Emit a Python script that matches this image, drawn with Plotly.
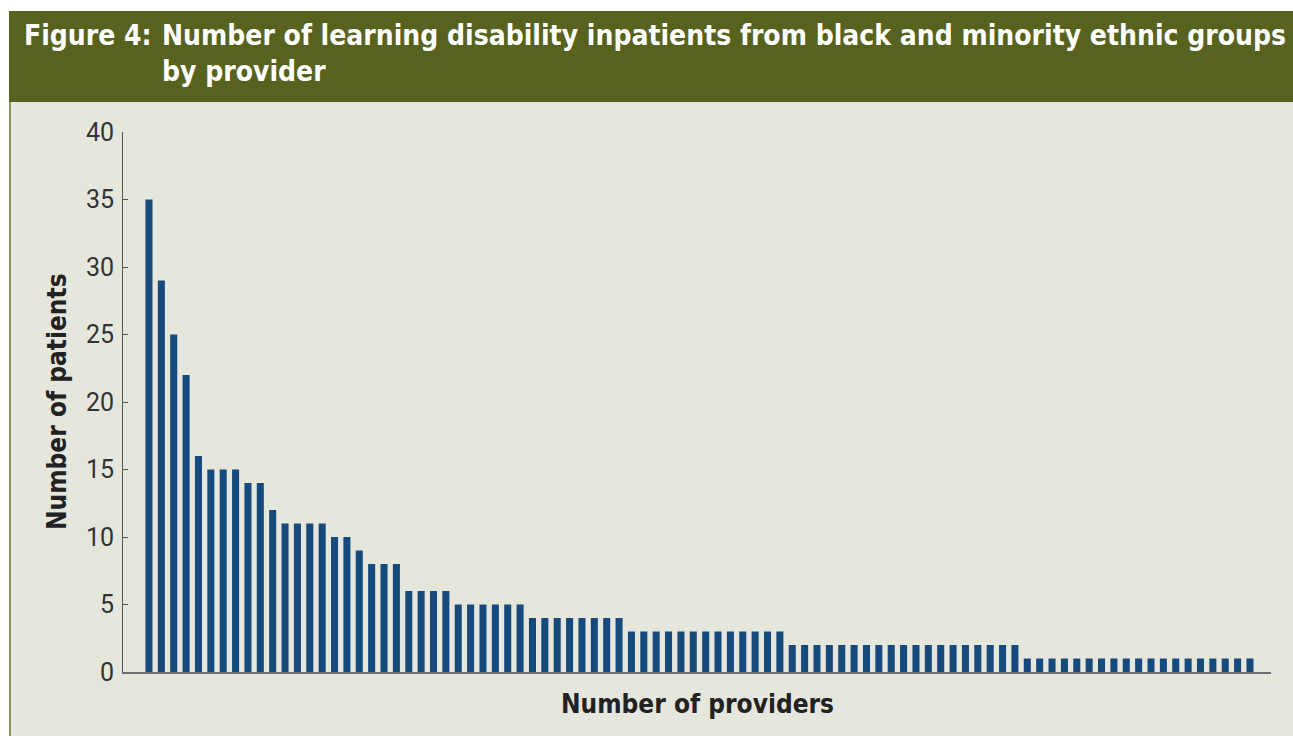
import plotly.graph_objects as go

# Patients per provider, providers sorted from most to fewest patients
patients = (
    [35, 29, 25, 22, 16, 15, 15, 15, 14, 14, 12, 11, 11, 11, 11, 10, 10, 9, 8, 8, 8]
    + [6] * 4 + [5] * 6 + [4] * 8 + [3] * 13 + [2] * 19 + [1] * 19
)
providers = list(range(len(patients)))
y_ticks = [0, 5, 10, 15, 20, 25, 30, 35, 40]

W, H = 1293, 736
L, R, T, B = 123, 22, 132, 64
PW, PH = W - L - R, H - T - B


def px_x(px):
    return (px - L) / PW


def px_y(py):
    return (H - B - py) / PH


BAR = "#174a7c"
BAND = "#58621f"
PANEL = "#e6e7dc"
TITLE_FONT = "DejaVu Sans Condensed, DejaVu Sans, sans-serif"

fig = go.Figure(
    go.Bar(x=providers, y=patients, marker=dict(color=BAR, line=dict(width=0)))
)

shapes = [
    # white margin round the panel
    dict(type="rect", xref="paper", yref="paper", x0=px_x(0), x1=px_x(W),
         y0=px_y(0), y1=px_y(11), fillcolor="white", line_width=0, layer="below"),
    dict(type="rect", xref="paper", yref="paper", x0=px_x(0), x1=px_x(9),
         y0=px_y(0), y1=px_y(H), fillcolor="white", line_width=0, layer="below"),
    # title band
    dict(type="rect", xref="paper", yref="paper", x0=px_x(9), x1=px_x(W),
         y0=px_y(11), y1=px_y(102), fillcolor=BAND, line_width=0, layer="below"),
    # panel left border
    dict(type="line", xref="paper", yref="paper", x0=px_x(10), x1=px_x(10),
         y0=px_y(102), y1=px_y(H), line=dict(color="#8c965c", width=2), layer="below"),
]

annotations = [
    dict(text="<b>Figure 4:</b>", x=px_x(22), y=px_y(36), xref="paper", yref="paper",
         xanchor="left", yanchor="middle", showarrow=False,
         font=dict(family=TITLE_FONT, size=28, color="white")),
    dict(text="<b>Number of learning disability inpatients from black and minority ethnic groups</b>",
         x=px_x(160), y=px_y(36), xref="paper", yref="paper",
         xanchor="left", yanchor="middle", showarrow=False,
         font=dict(family=TITLE_FONT, size=28, color="white")),
    dict(text="<b>by provider</b>", x=px_x(160), y=px_y(72), xref="paper", yref="paper",
         xanchor="left", yanchor="middle", showarrow=False,
         font=dict(family=TITLE_FONT, size=28, color="white")),
    dict(text="<b>Number of providers</b>", x=px_x(697), y=px_y(704), xref="paper", yref="paper",
         xanchor="center", yanchor="middle", showarrow=False,
         font=dict(family=TITLE_FONT, size=26, color="#222222")),
    dict(text="<b>Number of patients</b>", x=px_x(57), y=px_y(402), xref="paper", yref="paper",
         xanchor="center", yanchor="middle", showarrow=False, textangle=-90,
         font=dict(family=TITLE_FONT, size=26, color="#222222")),
]

fig.update_layout(
    width=W, height=H,
    margin=dict(l=L, r=R, t=T, b=B, pad=0),
    paper_bgcolor=PANEL, plot_bgcolor=PANEL,
    bargap=0.43, showlegend=False,
    shapes=shapes, annotations=annotations,
    xaxis=dict(range=[-2.1, 90.7], showticklabels=False, ticks="", showgrid=False,
               zeroline=False, showline=True, linecolor="#6e6e6e", linewidth=2),
    yaxis=dict(range=[0, 40], tickvals=y_ticks, ticks="inside", ticklen=5,
               tickcolor="#555555", tickwidth=1, showgrid=False, zeroline=False,
               showline=True, linecolor="#555555", linewidth=1,
               ticklabelstandoff=3,
               tickfont=dict(family="Roboto, sans-serif", size=25, color="#333333")),
)

fig.write_html("out.html")
